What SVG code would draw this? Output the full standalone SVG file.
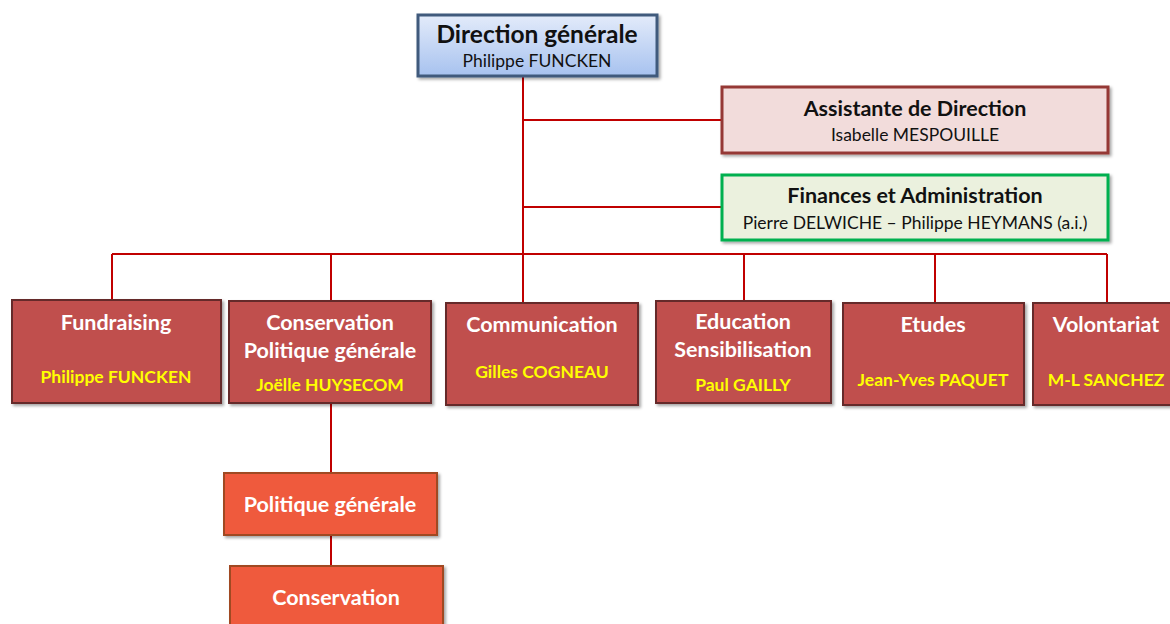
<svg xmlns="http://www.w3.org/2000/svg" width="1170" height="624" viewBox="0 0 1170 624">
<style>
.t{font-family:Lato,"Open Sans","Liberation Sans",sans-serif;text-anchor:middle;}
.b{font-weight:bold;}
.dk{fill:#111;}
.wh{fill:#ffffff;font-weight:bold;font-size:21.5px;}
.yl{fill:#ffff00;font-weight:bold;font-size:17.5px;}
.unit{fill:#c0504d;stroke:#652b29;stroke-width:2;}
.sub{fill:#ef5a3c;stroke:#a04a20;stroke-width:2;}
.ln{stroke:#c00000;stroke-width:2;fill:none;}
</style>
<defs>
<linearGradient id="gBlue" x1="0" y1="0" x2="0" y2="1">
<stop offset="0" stop-color="#e3ebfa"/>
<stop offset="1" stop-color="#a7c2ef"/>
</linearGradient>
<filter id="sh" x="-10%" y="-10%" width="125%" height="130%">
<feDropShadow dx="2" dy="2" stdDeviation="1.5" flood-color="#000" flood-opacity="0.35"/>
</filter>
</defs>
<rect width="1170" height="624" fill="#ffffff"/>
<g id="connectors">
<path class="ln" d="M523 76V303"/>
<path class="ln" d="M523 120H722"/>
<path class="ln" d="M523 207H722"/>
<path class="ln" d="M112 254H1107"/>
<path class="ln" d="M112 254V300"/>
<path class="ln" d="M331 254V301"/>
<path class="ln" d="M744 254V301"/>
<path class="ln" d="M935 254V303"/>
<path class="ln" d="M1107 254V303"/>
<path class="ln" d="M331 403V473"/>
<path class="ln" d="M331 535V566"/>
</g>
<g id="direction">
<rect x="418" y="15" width="239" height="61" fill="url(#gBlue)" stroke="#3f5a7c" stroke-width="3" filter="url(#sh)"/>
<text class="t b dk" x="537" y="43" font-size="24.5">Direction générale</text>
<text class="t dk" x="537" y="67" font-size="17.5">Philippe FUNCKEN</text>
</g>
<g id="assistante">
<rect x="722" y="87" width="386" height="66" fill="#f2dcdb" stroke="#953735" stroke-width="3" filter="url(#sh)"/>
<text class="t b dk" x="915" y="116" font-size="21.5">Assistante de Direction</text>
<text class="t dk" x="915" y="141" font-size="17.5">Isabelle MESPOUILLE</text>
</g>
<g id="finances">
<rect x="722" y="175" width="386" height="65" fill="#ebf1de" stroke="#00b050" stroke-width="3" filter="url(#sh)"/>
<text class="t b dk" x="915" y="203" font-size="21.5">Finances et Administration</text>
<text class="t dk" x="915" y="229" font-size="17.5">Pierre DELWICHE – Philippe HEYMANS (a.i.)</text>
</g>
<g id="fundraising">
<rect class="unit" x="12" y="300" width="209" height="103" filter="url(#sh)"/>
<text class="t wh" x="116" y="330">Fundraising</text>
<text class="t yl" x="116" y="383">Philippe FUNCKEN</text>
</g>
<g id="conservation-pg">
<rect class="unit" x="229" y="301" width="202" height="102" filter="url(#sh)"/>
<text class="t wh" x="330" y="330">Conservation</text>
<text class="t wh" x="330" y="358">Politique générale</text>
<text class="t yl" x="330" y="391">Joëlle HUYSECOM</text>
</g>
<g id="communication">
<rect class="unit" x="446" y="303" width="192" height="102" filter="url(#sh)"/>
<text class="t wh" x="542" y="332">Communication</text>
<text class="t yl" x="542" y="378">Gilles COGNEAU</text>
</g>
<g id="education">
<rect class="unit" x="656" y="301" width="175" height="102" filter="url(#sh)"/>
<text class="t wh" x="743" y="329">Education</text>
<text class="t wh" x="743" y="357">Sensibilisation</text>
<text class="t yl" x="743" y="391">Paul GAILLY</text>
</g>
<g id="etudes">
<rect class="unit" x="843" y="303" width="181" height="102" filter="url(#sh)"/>
<text class="t wh" x="933" y="332">Etudes</text>
<text class="t yl" x="933" y="386">Jean-Yves PAQUET</text>
</g>
<g id="volontariat">
<rect class="unit" x="1033" y="303" width="145" height="102" filter="url(#sh)"/>
<text class="t wh" x="1106" y="332">Volontariat</text>
<text class="t yl" x="1106" y="386">M-L SANCHEZ</text>
</g>
<g id="politique-generale">
<rect class="sub" x="224" y="473" width="213" height="62" filter="url(#sh)"/>
<text class="t wh" x="330" y="512">Politique générale</text>
</g>
<g id="conservation">
<rect class="sub" x="230" y="566" width="213" height="70" filter="url(#sh)"/>
<text class="t wh" x="336" y="605">Conservation</text>
</g>
</svg>
